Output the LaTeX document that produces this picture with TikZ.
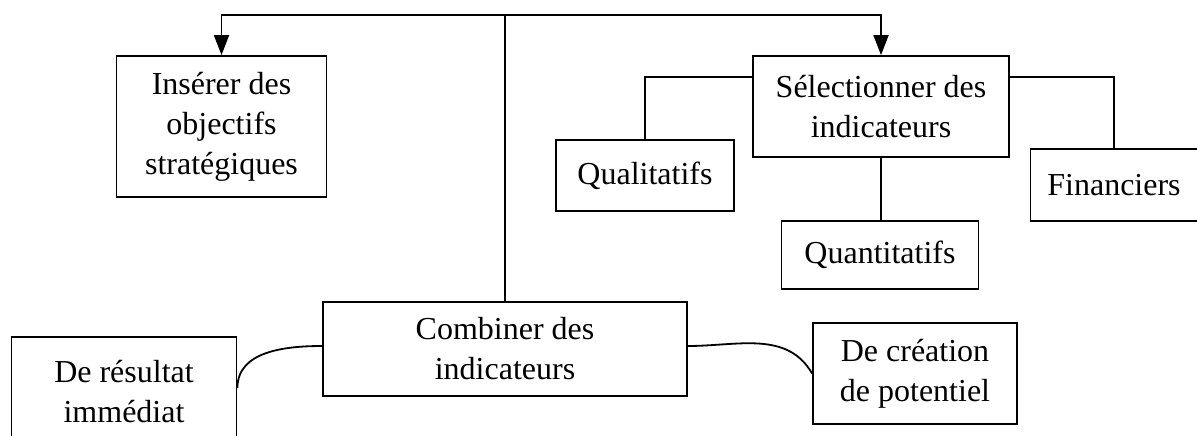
\documentclass[tikz,border=0pt]{standalone}
\usepackage{fontspec}
\setmainfont{Liberation Serif}
\usetikzlibrary{arrows.meta,calc}
\tikzset{
  every picture/.style = {
    x=0.5pt,
    y=-0.5pt,
    font=\fontsize{16}{20}\selectfont
  }
}
\tikzset{
  box/.style={
    draw,
    line width=0.9pt,
    align=center,
    inner sep=0pt
  },
  wh/.style 2 args={
    minimum width=#1*0.5pt,
    minimum height=#2*0.5pt
  },
  link/.style={
    line width=0.9pt
  },
  tip/.style={
    {Triangle[length=10pt,width=7.5pt]}-{Triangle[length=10pt,width=7.5pt]},
    line width=0.9pt
  }
}

\begin{document}
\begin{tikzpicture}
    \clip (0,0) rectangle (1197,435);
    % boxes
    \node[box, wh={210}{141}] (ins) at (221.5,126.5) {Insérer des\\objectifs\\stratégiques};
    \node[box, wh={256}{101}] (sel) at (881,106.5) {Sélectionner des\\indicateurs};
    \node[box, wh={178}{71}] (qual) at (645,175.5) {Qualitatifs};
    \node[box, wh={197}{68}] (quant) at (880,255) {Quantitatifs};
    \node[box, wh={167}{72}] (fin) at (1114,185) {Financiers};
    \node[box, wh={364}{94}] (comb) at (505,349) {Combiner des\\indicateurs};
    \node[box, wh={225}{110}] (res) at (124,392) {De résultat\\immédiat};
    \node[box, wh={204}{101}] (cre) at (915,373.5) {De création\\de potentiel};
    % links
    \coordinate (top) at (501,15);
    \draw[tip] (ins.north) |- (top) -| (sel.north);
    \draw[link] (comb.north) -- (comb.north |- top);
    \draw[link] (qual.north) |- ([yshift=14.75pt]sel.west);
    \draw[link] ([yshift=14.75pt]sel.east) -| (fin.north);
    \draw[link] (sel.south) -- (sel.south |- quant.north);
    \draw[link] ([yshift=2pt]res.east) to[out=90,in=180] ([yshift=1.5pt]comb.west);
    \draw[link] ([yshift=1.5pt]comb.east) to[out=0,in=120] (cre.west);
\end{tikzpicture}
\end{document}
